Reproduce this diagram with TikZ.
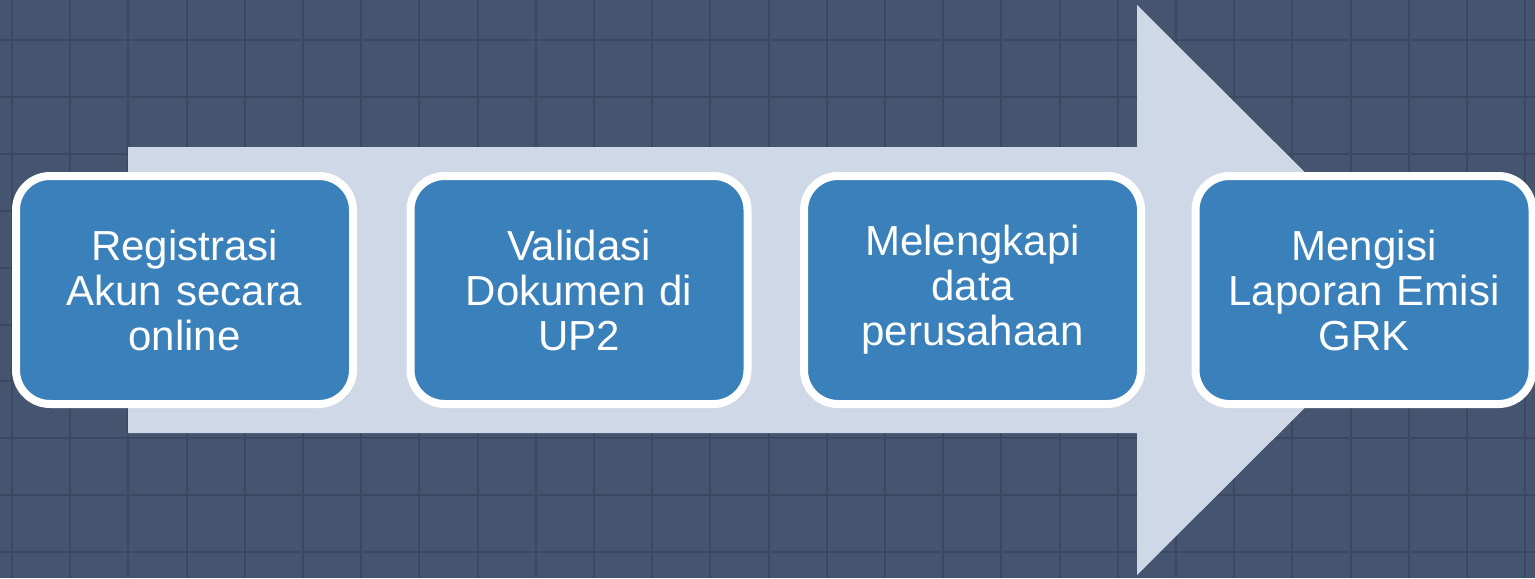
\documentclass[tikz,border=0pt]{standalone}
\usepackage{fontspec}
\setmainfont{Liberation Sans}
\usetikzlibrary{shadows}
\definecolor{bgcol}{RGB}{69,85,112}
\definecolor{gridcol}{RGB}{58,72,98}
\definecolor{arrowcol}{RGB}{207,216,230}
\definecolor{boxcol}{RGB}{58,128,187}
\tikzset{
  stepbox/.style={draw=white, line width=4pt, fill=boxcol, rounded corners=17pt,
    minimum width=168.5pt, minimum height=114pt, inner sep=0pt,
    text width=160pt, align=center, text=white,
    font=\fontsize{21pt}{22.5pt}\selectfont,
    drop shadow={shadow xshift=1.5pt, shadow yshift=-1.5pt, opacity=0.3, fill=black}},
  gridline/.style={draw=gridcol, line width=1pt}
}
\begin{document}
\begin{tikzpicture}[x=0.5pt,y=-0.5pt]
\useasboundingbox (0,0) rectangle (1535,578);
\fill[bgcol] (0,0) rectangle (1535,578);
\foreach \k in {0,...,26} {
  \draw[gridline] ({12+58.2*\k},0) -- ({12+58.2*\k},578);
}
\foreach \k in {0,...,9} {
  \draw[gridline] (0,{40+56.9*\k}) -- (1535,{40+56.9*\k});
}
\fill[arrowcol] (128,147) -- (1137,147) -- (1137,5) -- (1423,290) -- (1137,575) -- (1137,433) -- (128,433) -- cycle;
\node[stepbox] (b1) at (184.5,290) {Registrasi\\Akun secara\\online};
\node[stepbox] (b2) at (579,290) {Validasi\\Dokumen di\\UP2};
\node[stepbox] (b3) at (972.5,290) {Melengkapi\\data\\perusahaan};
\node[stepbox] (b4) at (1364,290) {Mengisi\\Laporan Emisi\\GRK};
\end{tikzpicture}
\end{document}
